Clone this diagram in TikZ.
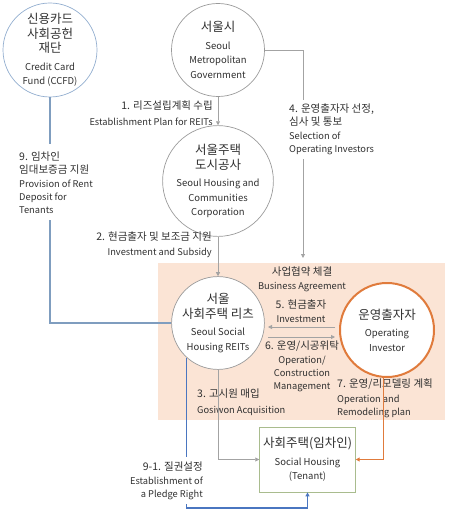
\documentclass[tikz,border=0pt]{standalone}
\usepackage{fontspec}
\setmainfont{Noto Sans CJK KR}
\usetikzlibrary{arrows.meta,positioning}
\definecolor{txtgray}{HTML}{303030}
\definecolor{linegray}{HTML}{A3A3A3}
\definecolor{circgray}{HTML}{9A9A9A}
\definecolor{ccfdblue}{HTML}{93AECF}
\definecolor{paleblue}{HTML}{7F9DBF}
\definecolor{pledgeblue}{HTML}{4A76C0}
\definecolor{investorange}{HTML}{E07B3C}
\definecolor{peach}{HTML}{FBE4D5}
\definecolor{housegreen}{HTML}{A9BC8E}
% fonts
\newcommand{\ckor}{\fontsize{12.5}{14.5}\selectfont}
\newcommand{\ceng}{\fontsize{9.5}{11.8}\selectfont}
\newcommand{\lkor}{\fontsize{10.5}{13}\selectfont}
\newcommand{\leng}{\fontsize{9.3}{12}\selectfont}
\tikzset{
  >={Triangle[length=4pt,width=4pt]},
  actor/.style={circle, draw=circgray, line width=0.7pt, align=center,
    text=txtgray, inner sep=0pt, font=\ckor},
  lab/.style={text=txtgray, inner sep=0pt, font=\lkor},
  grayline/.style={draw=linegray, line width=0.8pt},
  blueline/.style={draw=paleblue, line width=1.1pt},
}
\begin{document}
\begin{tikzpicture}[x=1pt,y=-1pt]
    \useasboundingbox (0,0) rectangle (450,513);
    % Sfondo accordo
    \fill[peach] (158,263) rectangle (445,420);
    \node[lab, anchor=north, align=center] (agree) at (302,267)
        {사업협약 체결\\[1pt]\leng Business Agreement};
    % Attori
    \node[actor, draw=ccfdblue, minimum size=94pt] (ccfd) at (50,50)
        {신용카드\\사회공헌\\재단\\[3pt]\ceng Credit Card\\\ceng Fund (CCFD)};
    \node[actor, minimum size=93pt] (smg) at (218,50)
        {서울시\\[3pt]\ceng Seoul\\\ceng Metropolitan\\\ceng Government};
    \node[actor, minimum size=94pt] (shcc) at (218,181)
        {서울주택\\도시공사\\[3pt]\ceng Seoul Housing and\\\ceng Communities\\\ceng Corporation};
    \node[actor, fill=white, minimum size=92pt] (reits) at (218,323)
        {서울\\사회주택 리츠\\[3pt]\ceng Seoul Social\\\ceng Housing REITs};
    \node[actor, fill=white, draw=investorange, line width=2pt, minimum size=94pt] (oi) at (387,330)
        {운영출자자\\[3pt]\ceng Operating\\\ceng Investor};
    \node[rectangle, draw=housegreen, fill=white, line width=0.8pt, align=center, text=txtgray,
        font=\ckor, minimum width=95pt, minimum height=65pt] (house) at (307.5,459.5)
        {사회주택(임차인)\\[3pt]\ceng Social Housing\\\ceng (Tenant)};
    % Etichette
    \node[lab, anchor=north east, align=right] (l1) at (213,101)
        {1. 리즈설립계획 수립\\[3pt]\leng Establishment Plan for REITs};
    \node[lab, anchor=north east, align=right] (l2) at (212,232)
        {2. 현금출자 및 보조금 지원\\[2pt]\leng Investment and Subsidy};
    \node[lab, anchor=north west, align=left] (l4) at (289,104)
        {4. 운영출자자 선정,\\심사 및 통보\\[1pt]\leng Selection of\\\leng Operating Investors};
    \node[lab, anchor=north west, align=left] (l9) at (19,152)
        {9. 임차인\\임대보증금 지원\\[1pt]\leng Provision of Rent\\\leng Deposit for\\\leng Tenants};
    \node[lab, anchor=north, align=center] (l5) at (301,300)
        {5. 현금출자\\[1pt]\leng Investment};
    \node[lab, anchor=north, align=center] (l6) at (302,341)
        {6. 운영/시공위탁\\[1pt]\leng Operation/\\\leng Construction\\\leng Management};
    \node[lab, anchor=north west, align=left] (l7) at (337,379)
        {7. 운영/리모델링 계획\\[2pt]\leng Operation and\\\leng Remodeling plan};
    \node[lab, anchor=north west, align=left] (l3) at (197,389)
        {3. 고시원 매입\\[3pt]\leng Gosiwon Acquisition};
    \node[lab, anchor=north east, align=right] (l91) at (203,462)
        {9-1. 질권설정\\[1pt]\leng Establishment of\\\leng a Pledge Right};
    % Coordinate
    \coordinate (c4) at (303,258);
    \coordinate (r5) at (268,327);
    \coordinate (o5) at (335,327);
    \coordinate (r6) at (268,337);
    \coordinate (o6) at (335,337);
    \coordinate (c91) at (187,508);
    % Linee
    \draw[grayline,->] (smg) -- (shcc);
    \draw[grayline,->] (shcc) -- (reits);
    \draw[grayline] (smg.east) -| ([yshift=4pt]l4.north -| c4);
    \draw[grayline,->] ([yshift=-4pt]l4.south -| c4) -- (c4);
    \draw[blueline] (ccfd) -- ([yshift=8pt]ccfd.south |- l9.north);
    \draw[blueline] ([yshift=-6pt]ccfd.south |- l9.south) |- (reits);
    \draw[grayline,->] (o5) -- (r5);
    \draw[grayline,->] (r6) -- (o6);
    \draw[grayline,->] (reits) |- (house);
    \draw[draw=investorange, line width=1pt, ->] ([xshift=-4pt]oi.south) |- (house);
    \draw[draw=pledgeblue, line width=1.1pt] (reits.228) -- ([yshift=5pt]reits.228 |- l91.north);
    \draw[draw=pledgeblue, line width=1.1pt, ->] ([yshift=-4pt]reits.228 |- l91.south) -- (reits.228 |- c91) -| (house);
\end{tikzpicture}
\end{document}
